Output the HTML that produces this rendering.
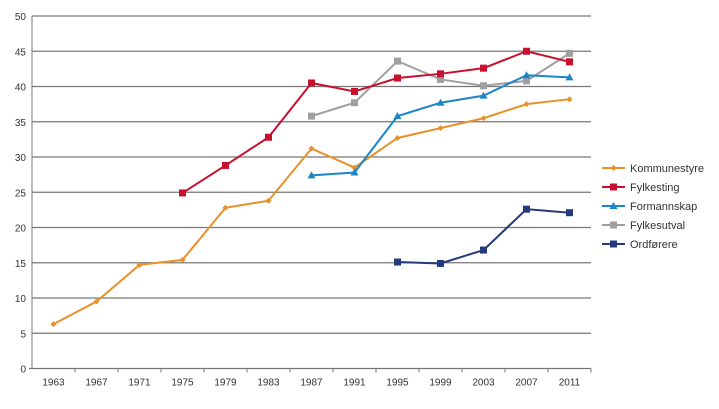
<!DOCTYPE html>
<html><head><meta charset="utf-8"><style>
body{margin:0;background:#fff;font-family:"Liberation Sans",sans-serif}
svg text{font-family:"Liberation Sans",sans-serif;fill:#333}
</style></head><body>
<svg id="c" width="719" height="404"></svg>
<script>
const categories=["1963","1967","1971","1975","1979","1983","1987","1991","1995","1999","2003","2007","2011"];
const yTicks=[0,5,10,15,20,25,30,35,40,45,50];
const kommunestyre=[6.3,9.5,14.7,15.4,22.8,23.8,31.2,28.5,32.7,34.1,35.5,37.5,38.2];
const fylkesting=[null,null,null,24.9,28.8,32.8,40.5,39.3,41.2,41.8,42.6,45.0,43.5];
const formannskap=[null,null,null,null,null,null,27.4,27.8,35.8,37.7,38.7,41.6,41.3];
const fylkesutval=[null,null,null,null,null,null,35.8,37.7,43.6,41.0,40.1,40.8,44.7];
const ordforere=[null,null,null,null,null,null,null,null,15.1,14.9,16.8,22.6,22.1];
const seriesNames=["Kommunestyre","Fylkesting","Formannskap","Fylkesutval","Ordførere"];

const svg=document.getElementById('c');const NS='http://www.w3.org/2000/svg';
const X0=32,X1=591,Y0=368.5,Y1=16,step=(X1-X0)/categories.length;
const x=i=>X0+step*(i+0.5);const y=v=>Y0-(v/50)*(Y0-Y1);
function mk(t,a,p){const e=document.createElementNS(NS,t);for(const k in a)e.setAttribute(k,a[k]);(p||svg).appendChild(e);return e;}
yTicks.forEach(v=>{
 if(v>0){const g=mk('line',{x1:X0,x2:X1,y1:y(v),y2:y(v),stroke:'#777','stroke-width':1.3});
 
 }
 const t=mk('text',{x:X0-6,y:y(v)+4,'text-anchor':'end','font-size':10});t.textContent=v;
 
 
});
const ax=mk('line',{x1:X0,x2:X0,y1:Y1,y2:Y0,stroke:'#777','stroke-width':1});


const xa=mk('line',{x1:X0-3,x2:X1,y1:Y0,y2:Y0,stroke:'#777','stroke-width':1.3});


categories.forEach((c,i)=>{
 const tk=mk('line',{x1:X0+step*(i+1),x2:X0+step*(i+1),y1:Y0,y2:Y0+4,stroke:'#777'});
 
 
 const t=mk('text',{x:x(i),y:Y0+17,'text-anchor':'middle','font-size':10});t.textContent=c;
 
 
});
const all=[kommunestyre,fylkesting,formannskap,fylkesutval,ordforere];
const colors=['#e8912a','#c8102e','#1a86c8','#a0a0a0','#243a7a'];
const markers=['diamond','square','triangle','square','square'];
function marker(g,type,cx,cy,col){
 if(type==='square')mk('rect',{x:cx-3.5,y:cy-3.5,width:7,height:7,fill:col},g);
 else if(type==='triangle')mk('polygon',{points:`${cx},${cy-4} ${cx-4},${cy+3} ${cx+4},${cy+3}`,fill:col},g);
 else mk('polygon',{points:`${cx},${cy-3} ${cx+3},${cy} ${cx},${cy+3} ${cx-3},${cy}`,fill:col},g);
}
const order=[3,0,1,2,4];
order.forEach(s=>{
 const g=mk('g',{});
 
 
 const pts=[];all[s].forEach((v,i)=>{if(v!=null)pts.push([x(i),y(v)]);});
 mk('polyline',{points:pts.map(p=>p.join(',')).join(' '),fill:'none',stroke:colors[s],'stroke-width':2},g);
 pts.forEach(p=>marker(g,markers[s],p[0],p[1],colors[s]));
});
seriesNames.forEach((n,s)=>{
 const g=mk('g',{});
 
 
 const ly=168+s*19;
 mk('line',{x1:602,x2:625,y1:ly,y2:ly,stroke:colors[s],'stroke-width':2},g);
 marker(g,markers[s],613.5,ly,colors[s]);
 const t=mk('text',{x:630,y:ly+4,'font-size':11},g);t.textContent=n;
});
</script>
</body></html>
